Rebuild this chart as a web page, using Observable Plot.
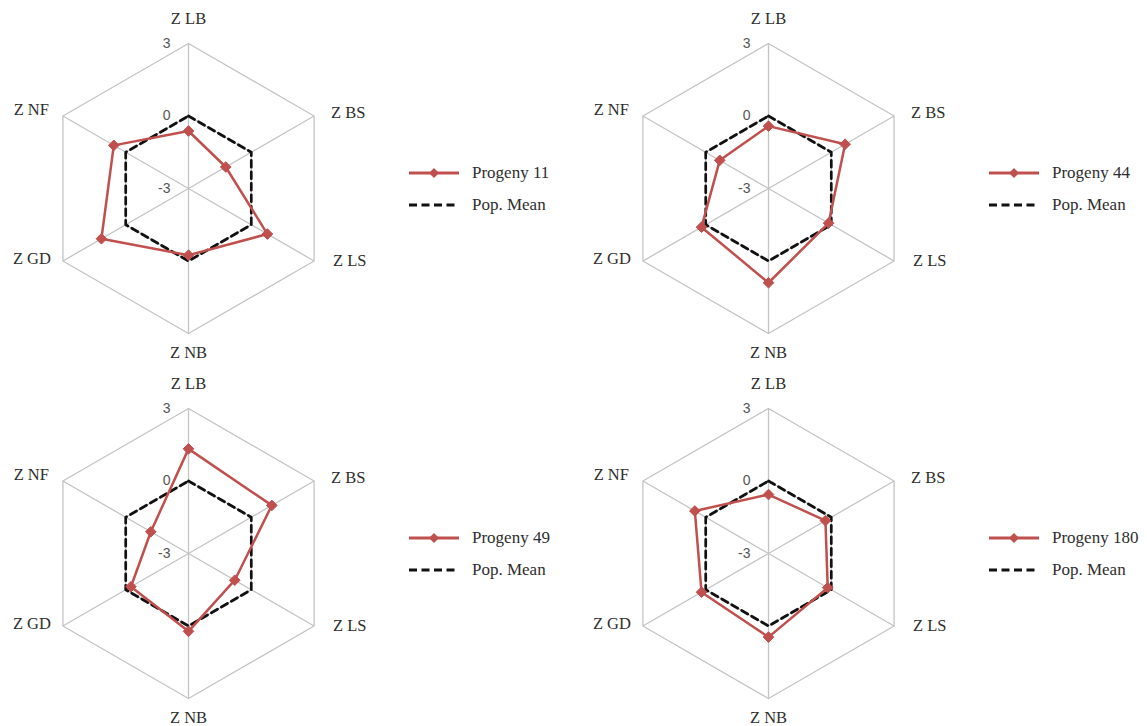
<!DOCTYPE html>
<html><head><meta charset="utf-8">
<script src="https://cdn.jsdelivr.net/npm/d3@7"></script>
<script src="https://cdn.jsdelivr.net/npm/@observablehq/plot@0.6"></script>
<style>
html,body{margin:0;padding:0;background:#fff}
body{width:1147px;height:726px;position:relative;overflow:hidden}
.panel{position:absolute}
.legend{position:absolute;font-family:"Liberation Serif","Times New Roman",serif;font-size:17px;color:#2e2e2e}
.legend .row{display:flex;align-items:center;height:32px;white-space:nowrap}
.legend svg{margin-right:13px;overflow:visible}
</style></head><body>
<script>
// ---- data ----
const axes = ["Z LB", "Z BS", "Z LS", "Z NB", "Z GD", "Z NF"];
const progenyNames = ["Progeny 11", "Progeny 44", "Progeny 49", "Progeny 180"];
const progeny11  = [-0.62, -1.22, 0.77, -0.24, 1.16, 0.57];
const progeny44  = [-0.42, 0.66, -0.13, 0.90, 0.20, -0.67];
const progeny49  = [1.33, 0.98, -0.79, 0.22, -0.25, -1.20];
const progeny180 = [-0.56, -0.28, -0.17, 0.46, 0.20, 0.52];
const popMean    = [0, 0, 0, 0, 0, 0];
const tickValues = [-3, 0, 3];
const tickLabels = ["-3", "0", "3"];
const valueDomain = [-3, 3];

const series = [progeny11, progeny44, progeny49, progeny180];

// ---- layout ----
const W = 380, H = 361, CX = 188, CY = 188, R = 145;
const panelPos = [[0, 0], [580, 0], [0, 365], [580, 365]];
const RED = "#c0504d";
const GRID = "#c4c4c4";

function radius(v) { return (v - valueDomain[0]) / (valueDomain[1] - valueDomain[0]); }
function angle(i) { return Math.PI / 2 - i * Math.PI / 3; }
function pt(v, i) { const r = radius(v), a = angle(i); return {x: r * Math.cos(a), y: r * Math.sin(a), i, v}; }

function radar(values) {
  const rings = tickValues.filter(t => t > valueDomain[0]).flatMap(t => axes.map((a, i) => ({...pt(t, i), t})));
  const spokes = axes.map((a, i) => { const o = pt(valueDomain[1], i); return {x1: 0, y1: 0, x2: o.x, y2: o.y}; });
  const meanPts = popMean.map((v, i) => pt(v, i));
  const serPts = values.map((v, i) => pt(v, i));
  const outer = axes.map((a, i) => ({...pt(valueDomain[1], i), label: a}));
  const lab = (idx, opts) => Plot.text([outer[idx]], {x: "x", y: "y", text: "label",
    fontFamily: "Liberation Serif, Times New Roman, serif", fontSize: 16.5, fill: "#2e2e2e", ...opts});
  return Plot.plot({
    width: W, height: H, margin: 0,
    x: {domain: [-CX / R, (W - CX) / R], axis: null},
    y: {domain: [-(H - CY) / R, CY / R], axis: null},
    style: {background: "transparent", overflow: "visible"},
    marks: [
      Plot.line(rings, {x: "x", y: "y", z: "t", curve: "linear-closed", stroke: GRID, strokeWidth: 1.3}),
      Plot.link(spokes, {x1: "x1", y1: "y1", x2: "x2", y2: "y2", stroke: GRID, strokeWidth: 1.3}),
      Plot.line(meanPts, {x: "x", y: "y", curve: "linear-closed", stroke: "#111", strokeWidth: 2.7, strokeDasharray: "7,4.5"}),
      Plot.line(serPts, {x: "x", y: "y", curve: "linear-closed", stroke: RED, strokeWidth: 2.5}),
      Plot.dot(serPts, {x: "x", y: "y", symbol: "diamond2", r: 4.8, fill: RED, stroke: RED, strokeWidth: 1}),
      Plot.text(tickValues, {x: 0, y: t => radius(t), text: (t, k) => tickLabels[k], textAnchor: "end", dx: -18,
        fill: "#555", fontSize: 14, fontFamily: "Liberation Sans, Arial, sans-serif"}),
      lab(0, {textAnchor: "middle", dy: -25}),
      lab(1, {textAnchor: "start", dx: 17, dy: -3}),
      lab(2, {textAnchor: "start", dx: 19, dy: 0}),
      lab(3, {textAnchor: "middle", dy: 19}),
      lab(4, {textAnchor: "end", dx: -12, dy: -2}),
      lab(5, {textAnchor: "end", dx: -14, dy: -6})
    ]
  });
}

function legend(name) {
  const div = document.createElement("div");
  div.className = "legend";
  div.innerHTML =
    `<div class="row"><svg width="50" height="12"><line x1="0" y1="6" x2="50" y2="6" stroke="${RED}" stroke-width="2.8"/>` +
    `<polygon points="25,1 30,6 25,11 20,6" fill="${RED}"/></svg><span>${name}</span></div>` +
    `<div class="row"><svg width="50" height="12"><line x1="0" y1="6" x2="50" y2="6" stroke="#111" stroke-width="2.9" stroke-dasharray="8,4.5"/></svg><span>Pop. Mean</span></div>`;
  return div;
}

series.forEach((vals, k) => {
  const [px, py] = panelPos[k];
  const wrap = document.createElement("div");
  wrap.className = "panel";
  wrap.style.left = px + "px";
  wrap.style.top = py + "px";
  wrap.appendChild(radar(vals));
  document.body.appendChild(wrap);
  const lg = legend(progenyNames[k]);
  lg.style.left = (px + CX + 221) + "px";
  lg.style.top = (py + 173 - 16) + "px";
  document.body.appendChild(lg);
});
</script>
</body></html>
